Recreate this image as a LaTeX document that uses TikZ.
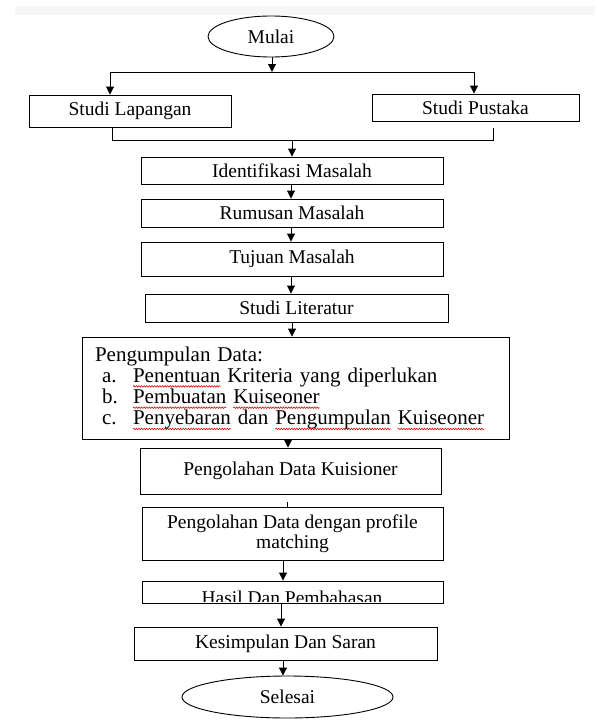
\documentclass[tikz,border=0pt]{standalone}
\usepackage{fontspec}
\setmainfont{Liberation Serif}
\usetikzlibrary{arrows.meta,shapes.geometric,decorations.pathmorphing}
\newsavebox\wavebox
\newlength\wavelen
\newcommand\rwave[1]{\sbox\wavebox{#1}\setlength\wavelen{\wd\wavebox}%
  \rlap{\tikz[overlay,x=1pt,y=1pt,baseline=0pt]\draw[red!85!black, line width=0.55pt,
    decorate, decoration={snake, amplitude=0.8pt, segment length=2.6pt}]
    (0pt,-4pt) -- (\wavelen,-4pt);}\usebox\wavebox}
\begin{document}
\begin{tikzpicture}[x=1pt,y=-1pt,
  box/.style={draw, line width=0.9pt, inner sep=0pt, align=center,
    font=\fontsize{19.5}{20}\selectfont},
  oval/.style={draw, ellipse, line width=0.9pt, inner sep=0pt,
    font=\fontsize{19.5}{20}\selectfont},
  conn/.style={line width=0.9pt},
  arr/.style={conn, -{Triangle[width=8pt,length=8pt]}}]
\useasboundingbox (0,0) rectangle (595,720);
\fill[gray!7] (15,6) rectangle (595,15);

\node[oval, minimum width=126pt, minimum height=41pt] (mulai) at (271,36.5) {Mulai};
\node[box, minimum width=202pt, minimum height=32pt] (lap) at (130,111) {Studi Lapangan};
\node[box, minimum width=207pt, minimum height=27pt] (pus) at (475.5,107.5) {Studi Pustaka};
\node[box, minimum width=302pt, minimum height=27pt] (ident) at (292,170.5) {Identifikasi Masalah};
\node[box, minimum width=302pt, minimum height=28pt] (rum) at (292,213) {Rumusan Masalah};
\node[box, minimum width=302pt, minimum height=34pt] (tuj) at (292,259) {Tujuan Masalah};
\node[box, minimum width=303pt, minimum height=28pt] (lit) at (296.5,308) {Studi Literatur};
\node[box, minimum width=427pt, minimum height=102pt, text width=401pt, inner xsep=13pt,
  align=left, font=\fontsize{21}{21.3}\selectfont] (peng) at (295.5,388)
  {Pengumpulan Data:\\
   \hspace*{7pt}\makebox[31pt][l]{a.}\rwave{Penentuan} Kriteria yang diperlukan\\
   \hspace*{7pt}\makebox[31pt][l]{b.}\rwave{Pembuatan} \rwave{Kuiseoner}\\
   \hspace*{7pt}\makebox[31pt][l]{c.}\rwave{Penyebaran} dan \rwave{Pengumpulan} \rwave{Kuiseoner}};
\node[box, minimum width=301pt, minimum height=46pt] (kuis) at (290.5,471) {Pengolahan Data Kuisioner};
\node[box, minimum width=301pt, minimum height=53pt] (prof) at (292.5,533.5) {Pengolahan Data dengan profile\\matching};
\node[box, minimum width=301pt, minimum height=22pt] (hasil) at (292.5,592) {};
\begin{scope}
  \clip ([yshift=1.5pt]hasil.south west) rectangle (hasil.north east);
  \node[anchor=base, inner sep=0pt, font=\fontsize{19.5}{20}\selectfont] (hasiltext) at (292,604) {Hasil Dan Pembahasan};
\end{scope}
\node[box, minimum width=303pt, minimum height=33pt] (kes) at (285.5,643.5) {Kesimpulan Dan Saran};
\node[oval, minimum width=211pt, minimum height=42pt] (sel) at (287.5,697) {Selesai};

% split after Mulai
\coordinate (split) at (272,72);
\coordinate (splitL) at (110,72);
\coordinate (splitR) at (474,72);
\draw[arr] (mulai.south -| split) -- (split);
\draw[conn] (splitL) -- (splitR);
\draw[arr] (splitL) -- (lap.north -| splitL);
\draw[arr] (splitR) -- (pus.north -| splitR);

% merge
\coordinate (mergeL) at (112,140);
\coordinate (mergeR) at (493,140);
\coordinate (merge) at (292,140);
\coordinate (pusb) at ([yshift=-7pt]pus.south);
\draw[conn] (lap.south -| mergeL) -- (mergeL) -- (mergeR) -- (pusb -| mergeR);
\draw[arr] (merge) -- (ident.north -| merge);

\coordinate (c1) at (291,0);
\coordinate (c2) at (292,0);
\coordinate (c3) at (288,0);
\coordinate (c4) at (287,0);
\coordinate (c5) at (283,0);
\coordinate (c6) at (281,0);
\coordinate (c7) at (283,0);
\draw[arr] (ident.south -| c1) -- (rum.north -| c1);
\draw[arr] (rum.south -| c1) -- (tuj.north -| c1);
\draw[arr] (tuj.south -| c1) -- (lit.north -| c1);
\draw[arr] (lit.south -| c2) -- (peng.north -| c2);
\draw[arr] (peng.south -| c3) -- (kuis.north -| c3);
\draw[conn] (prof.north -| c4) -- ++(0,-5);
\draw[arr] (prof.south -| c5) -- (hasil.north -| c5);
\draw[arr] (hasil.south -| c6) -- (kes.north -| c6);
\draw[arr] (kes.south -| c7) -- (sel.north -| c7);
\end{tikzpicture}
\end{document}
